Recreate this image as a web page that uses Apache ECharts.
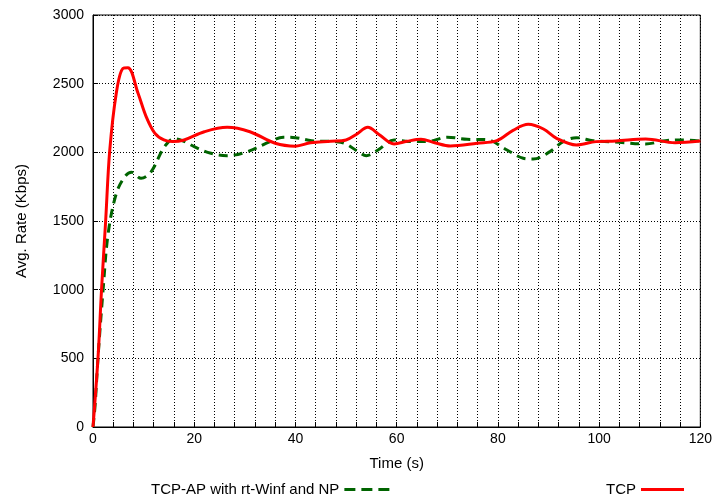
<!DOCTYPE html>
<html>
<head>
<meta charset="utf-8">
<script src="https://cdn.jsdelivr.net/npm/echarts@6/dist/echarts.min.js"></script>
<style>
  html, body { margin: 0; padding: 0; background: #fff; }
  #chart { width: 715px; height: 495px; }
</style>
</head>
<body>
<div id="chart"></div>
<script>
// Average rate over time for the two transport variants
const tcpTime = [0, 1.0, 1.7, 2.5, 3.3, 4.6, 5.9, 6.9, 8.9, 10.5, 12.2, 14, 15.7, 18, 22, 26.5, 31, 36, 40, 43, 47, 50, 52, 54.3, 56.5, 59.5, 62, 64.8, 67.5, 70.6, 75.9, 79.8, 83, 86, 89, 91.6, 95.5, 99.4, 103.3, 109.2, 115, 120];
const tcpRate = [0, 510, 1010, 1500, 2010, 2430, 2610, 2615, 2430, 2260, 2140, 2090, 2078, 2090, 2150, 2182, 2150, 2066, 2045, 2070, 2080, 2090, 2130, 2182, 2130, 2061, 2080, 2095, 2070, 2046, 2066, 2085, 2160, 2204, 2170, 2102, 2053, 2078, 2082, 2097, 2070, 2082];

const apTime = [0, 0.4, 1.0, 2.0, 3.0, 4.6, 6.3, 7.6, 9.5, 11.5, 14.1, 16.1, 18, 20, 23.3, 26.5, 30.5, 35, 37.6, 40, 43.2, 47.8, 49.7, 52.4, 54, 56.3, 59.5, 62.8, 66, 70, 73.9, 77.8, 81.8, 85, 87, 90.3, 92.9, 95.5, 98.8, 104, 109.2, 113.1, 117, 120];
const apRate = [0, 150, 510, 1000, 1410, 1700, 1823, 1855, 1811, 1860, 2040, 2100, 2080, 2041, 1993, 1976, 2005, 2078, 2110, 2107, 2085, 2078, 2066, 2005, 1976, 2017, 2090, 2078, 2078, 2110, 2095, 2092, 2017, 1957, 1951, 2005, 2078, 2107, 2085, 2073, 2061, 2085, 2090, 2082];

const seriesNames = ['TCP-AP with rt-Winf and NP', 'TCP'];
const xLabelStep = 20;

const pairs = (xs, ys) => xs.map((x, i) => [x, ys[i]]);

const FONT = '"Liberation Sans", Arial, Helvetica, sans-serif';
const chart = echarts.init(document.getElementById('chart'), null, { renderer: 'canvas' });

const gridLine = { show: true, lineStyle: { color: '#000', width: 1, type: [1, 2] } };

const legendBase = {
  align: 'right',
  itemHeight: 14,
  itemStyle: { opacity: 0 },
  textStyle: { fontSize: 15, color: '#000', fontFamily: FONT },
  selectedMode: false
};

chart.setOption({
  animation: false,
  backgroundColor: '#fff',
  textStyle: { fontFamily: FONT },
  grid: {
    left: 93, right: 10, top: 15, bottom: 68,
    show: true, borderColor: '#000', borderWidth: 1, backgroundColor: 'transparent'
  },
  legend: [
    Object.assign({}, legendBase, {
      data: [seriesNames[0]],
      left: 146, top: 477,
      itemWidth: 46,
      lineStyle: { color: '#006400', width: 3, type: [11, 6] }
    }),
    Object.assign({}, legendBase, {
      data: [seriesNames[1]],
      left: 601, top: 477,
      itemWidth: 43,
      lineStyle: { color: '#ff0000', width: 3, type: 'solid' }
    })
  ],
  xAxis: {
    type: 'value',
    min: 0, max: 120, interval: 4,
    name: 'Time (s)',
    nameLocation: 'middle',
    nameGap: 29,
    nameTextStyle: { fontSize: 15, color: '#000', fontFamily: FONT },
    axisLine: { show: true, lineStyle: { color: '#000', width: 1 } },
    axisTick: { show: true, inside: true, length: 5, lineStyle: { color: '#000' } },
    axisLabel: {
      fontSize: 14, color: '#000', margin: 5, fontFamily: FONT,
      formatter: v => (v % xLabelStep === 0 ? String(v) : '')
    },
    splitLine: gridLine
  },
  yAxis: {
    type: 'value',
    min: 0, max: 3000, interval: 500,
    name: 'Avg. Rate (Kbps)',
    nameLocation: 'middle',
    nameGap: 64,
    nameRotate: 90,
    nameTextStyle: { fontSize: 15, color: '#000', fontFamily: FONT },
    axisLine: { show: true, lineStyle: { color: '#000', width: 1 } },
    axisTick: { show: true, inside: true, length: 5, lineStyle: { color: '#000' } },
    axisLabel: { fontSize: 14, color: '#000', margin: 9, fontFamily: FONT, formatter: v => String(v) },
    splitLine: gridLine
  },
  series: [
    {
      name: seriesNames[0],
      type: 'line',
      data: pairs(apTime, apRate),
      smooth: 0.35,
      symbol: 'none',
      lineStyle: { color: '#006400', width: 3, type: [9, 6] },
      itemStyle: { color: '#006400' },
      z: 2
    },
    {
      name: seriesNames[1],
      type: 'line',
      data: pairs(tcpTime, tcpRate),
      smooth: 0.35,
      symbol: 'none',
      lineStyle: { color: '#ff0000', width: 3 },
      itemStyle: { color: '#ff0000' },
      z: 3
    }
  ]
});
</script>
</body>
</html>
